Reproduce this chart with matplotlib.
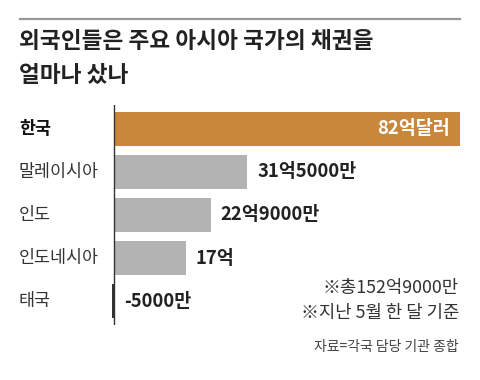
import matplotlib
matplotlib.use("Agg")
import matplotlib.pyplot as plt

plt.rcParams["font.family"] = ["Noto Sans CJK KR", "DejaVu Sans"]

countries = ["한국", "말레이시아", "인도", "인도네시아", "태국"]
values = [82, 31.5, 22.9, 17, -0.5]
value_labels = ["82억달러", "31억5000만", "22억9000만", "17억", "-5000만"]

title_lines = ["외국인들은 주요 아시아 국가의 채권을", "얼마나 샀나"]
notes = ["※총152억9000만", "※지난 5월 한 달 기준"]
source = "자료=각국 담당 기관 종합"

W, H = 480, 380
fig = plt.figure(figsize=(W / 100, H / 100), dpi=100)
fig.patch.set_facecolor("white")


def fx(px):
    return px / W


def fy(py):
    return 1 - py / H


# top rule
fig.add_artist(plt.Line2D([fx(20), fx(460)], [fy(19), fy(19)],
                          color="#999999", linewidth=1.6))

fig.text(fx(19), fy(42), title_lines[0], fontsize=16.3, fontweight="bold",
         color="#222222", va="center", ha="left")
fig.text(fx(19), fy(75), title_lines[1], fontsize=16.3, fontweight="bold",
         color="#222222", va="center", ha="left")

# bar axes
scale = 346 / 82  # px per unit
xmin = -0.6
left_px = 114 + xmin * scale
ax = fig.add_axes([fx(left_px), fy(325), fx(460) - fx(left_px), 220 / H])
ax.set_xlim(xmin, 82)
ax.set_ylim(4.558, -0.558)
ax.axis("off")

colors = ["#C8873A", "#B3B3B3", "#B3B3B3", "#B3B3B3", "#333333"]
ax.barh(range(len(values)), values, height=0.79, color=colors)
ax.axvline(0, color="#333333", linewidth=1)

for i, (v, lab) in enumerate(zip(values, value_labels)):
    if i == 0:
        ax.text(v - 2.3, i, lab, ha="right", va="center", fontsize=13.3,
                color="white", fontweight="bold")
    else:
        ax.text(max(v, 0) + 2.4, i, lab, ha="left", va="center",
                fontsize=13.3, color="#222222", fontweight="bold")

# category labels
centers = [129, 172, 215, 258, 301]
for i, (name, cy) in enumerate(zip(countries, centers)):
    fig.text(fx(19), fy(cy), name, fontsize=12.5,
             fontweight="bold" if i == 0 else "normal",
             color="#111111" if i == 0 else "#333333",
             va="center", ha="left")

fig.text(fx(459), fy(288), notes[0], fontsize=12.8, color="#333333",
         ha="right", va="center")
fig.text(fx(459), fy(313), notes[1], fontsize=12.8, color="#333333",
         ha="right", va="center")
fig.text(fx(459), fy(347), source, fontsize=10, color="#444444",
         ha="right", va="center")

fig.savefig("out.png", dpi=100, facecolor="white")
